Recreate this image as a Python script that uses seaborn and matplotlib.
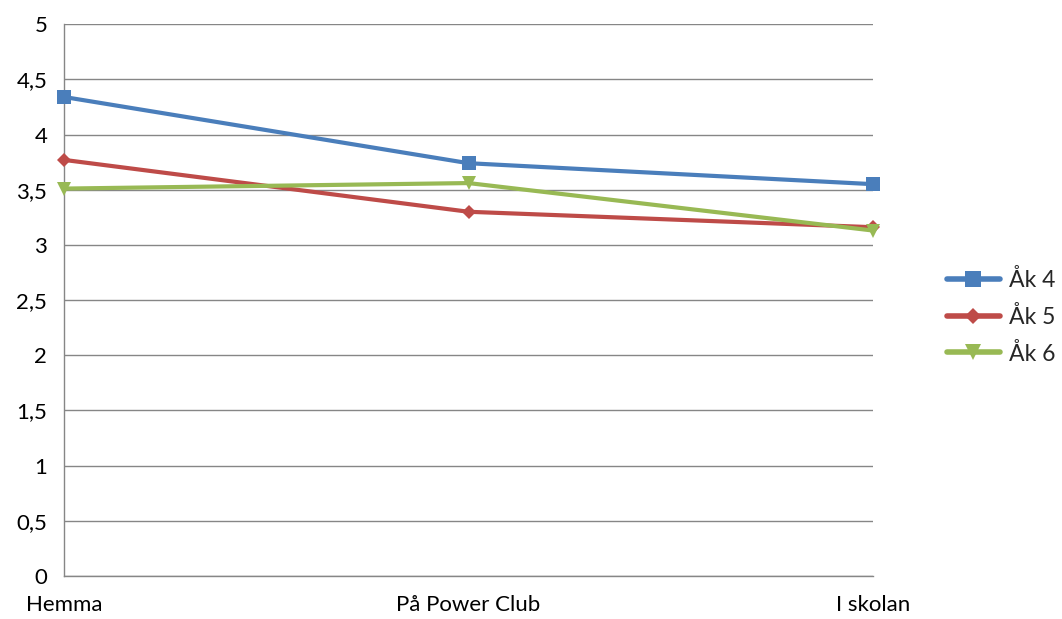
import pandas as pd
import seaborn as sns
import matplotlib.pyplot as plt

# Categories and mean values
categories = ['Hemma', 'På Power Club', 'I skolan']
ak4 = [4.34, 3.74, 3.55]
ak5 = [3.77, 3.30, 3.16]
ak6 = [3.51, 3.56, 3.13]
series_names = ['Åk 4', 'Åk 5', 'Åk 6']
yticks = [0, 0.5, 1, 1.5, 2, 2.5, 3, 3.5, 4, 4.5, 5]

rows = []
for name, vals in zip(series_names, [ak4, ak5, ak6]):
    for cat, v in zip(categories, vals):
        rows.append({'Plats': cat, 'Värde': v, 'Grupp': name})
df = pd.DataFrame(rows)

sns.set_style('white')
plt.rcParams['font.family'] = ['Lato', 'DejaVu Sans']

fig = plt.figure(figsize=(10.62, 6.19), dpi=100)
ax = fig.add_axes([0.0603, 0.0695, 0.7617, 0.8915])

palette = {'Åk 4': '#4A7EBB', 'Åk 5': '#BE4B48', 'Åk 6': '#98B954'}
markers = {'Åk 4': 's', 'Åk 5': 'D', 'Åk 6': 'v'}

sns.lineplot(data=df, x='Plats', y='Värde', hue='Grupp', style='Grupp',
             palette=palette, markers=markers, dashes=False, sort=False,
             linewidth=3, markersize=10, markeredgewidth=0, ax=ax, zorder=3)

# markers sit on the axes edges unclipped; diamonds a bit smaller
for ln in ax.lines:
    ln.set_clip_on(False)
    if ln.get_marker() == 'D':
        ln.set_markersize(7.5)

ax.set_xlim(0, 2)
ax.set_ylim(0, 5)
ax.set_yticks(yticks)
ax.set_yticklabels([str(t).replace('.', ',') if t != int(t) else str(int(t)) for t in yticks])
ax.set_xticks(range(len(categories)))
ax.set_xticklabels(categories)
ax.set_xlabel('')
ax.set_ylabel('')

grid_col = '#868686'
ax.grid(False)
ax.yaxis.grid(True, color=grid_col, linewidth=1)
for s in ['top', 'right']:
    ax.spines[s].set_visible(False)
for s in ['left', 'bottom']:
    ax.spines[s].set_color(grid_col)
    ax.spines[s].set_linewidth(1)
ax.tick_params(axis='both', which='major', direction='out', length=7,
               color=grid_col, labelsize=16, labelcolor='black')
ax.tick_params(axis='y', pad=5)
ax.tick_params(axis='x', pad=7)
ax.set_axisbelow(True)

leg = ax.legend(loc='center left', bbox_to_anchor=(1.066, 0.47), frameon=False,
                fontsize=16.5, handlelength=2.3, handletextpad=0.4, labelspacing=0.65)
for h in leg.legend_handles:
    h.set_linewidth(4)
    if h.get_marker() == 'D':
        h.set_markersize(8)
    else:
        h.set_markersize(11)

fig.savefig('out.png', dpi=100)
